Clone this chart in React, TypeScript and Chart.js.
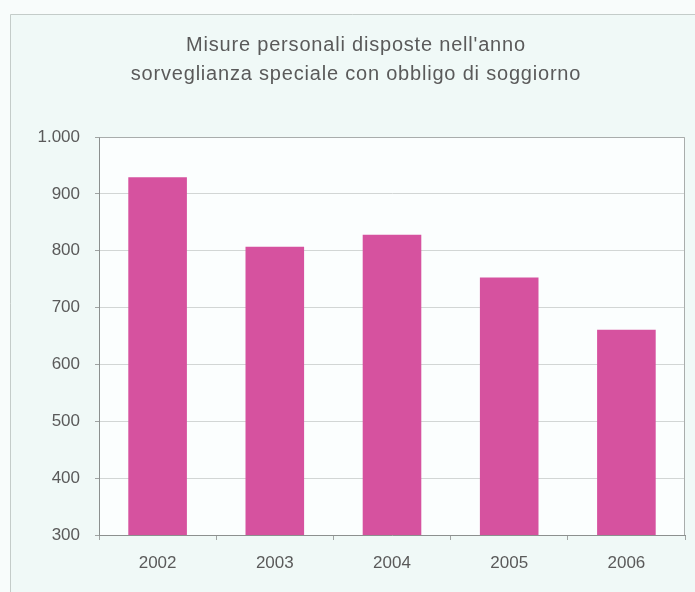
import React, { useEffect, useRef } from "react";
import { Chart, registerables } from "chart.js";

Chart.register(...registerables);

const titleLines = [
  "Misure personali disposte nell'anno",
  "sorveglianza speciale con obbligo di soggiorno",
];
const years = ["2002", "2003", "2004", "2005", "2006"];
const misure = [929, 807, 828, 753, 661];
const yMin = 300;
const yMax = 1000;
const yStep = 100;

const fmt = (v: number) => {
  const s = Math.round(v).toString();
  return s.replace(/\B(?=(\d{3})+(?!\d))/g, ".");
};

const FONT = '"Liberation Sans", Arial, sans-serif';

const decor = {
  id: "decor",
  beforeDraw(chart: any) {
    const { ctx, width, height, chartArea } = chart;
    ctx.save();
    ctx.fillStyle = "#f8fcfb";
    ctx.fillRect(0, 0, width, height);
    ctx.fillStyle = "#f0f9f7";
    ctx.fillRect(10, 14, width - 10, height - 14);
    ctx.strokeStyle = "#c4ccc9";
    ctx.lineWidth = 1;
    ctx.beginPath();
    ctx.moveTo(10.5, height);
    ctx.lineTo(10.5, 14.5);
    ctx.lineTo(width, 14.5);
    ctx.stroke();
    ctx.fillStyle = "#fbfefe";
    ctx.fillRect(chartArea.left, chartArea.top, chartArea.right - chartArea.left, chartArea.bottom - chartArea.top);
    // title
    ctx.fillStyle = "#5a5a5a";
    ctx.font = `20px ${FONT}`;
    (ctx as any).letterSpacing = "0.8px";
    ctx.textAlign = "center";
    ctx.textBaseline = "middle";
    ctx.fillText(titleLines[0], 356, 45);
    ctx.fillText(titleLines[1], 356, 74);
    ctx.restore();
  },
  beforeDatasetsDraw(chart: any) {
    const { ctx, chartArea } = chart;
    ctx.save();
    ctx.strokeStyle = "#a9adac";
    ctx.lineWidth = 1;
    ctx.beginPath();
    ctx.moveTo(Math.round(chartArea.left) + 0.5, Math.round(chartArea.top) + 0.5);
    ctx.lineTo(Math.round(chartArea.right) - 0.5, Math.round(chartArea.top) + 0.5);
    ctx.lineTo(Math.round(chartArea.right) - 0.5, Math.round(chartArea.bottom));
    ctx.stroke();
    ctx.restore();
  },
};

export default function App() {
  const ref = useRef<HTMLCanvasElement | null>(null);
  useEffect(() => {
    if (!ref.current) return;
    const chart = new Chart(ref.current, {
      type: "bar",
      data: {
        labels: years,
        datasets: [
          {
            data: misure,
            backgroundColor: "#d6529f",
            borderWidth: 0,
            barPercentage: 0.5,
            categoryPercentage: 1.0,
          },
        ],
      },
      options: {
        responsive: false,
        animation: false,
        devicePixelRatio: 1,
        layout: { padding: { top: 137, left: 10, right: 10, bottom: 0 } },
        plugins: {
          legend: { display: false },
          tooltip: { enabled: false },
          title: { display: false },
        },
        scales: {
          x: {
            offset: true,
            grid: {
              offset: true,
              drawOnChartArea: false,
              tickLength: 5,
              tickColor: "#a0a4a3",
            },
            border: { display: true, color: "#8c908f" },
            ticks: {
              color: "#5a5a5a",
              font: { family: FONT, size: 17 },
              padding: 13,
            },
            afterFit(scale: any) {
              scale.height = 57;
            },
          },
          y: {
            min: yMin,
            max: yMax,
            ticks: {
              stepSize: yStep,
              color: "#5a5a5a",
              font: { family: FONT, size: 17 },
              padding: 15,
              callback: (v: any) => fmt(Number(v)),
            },
            grid: {
              color: "#d2d6d5",
              tickLength: 4,
              tickColor: "#a0a4a3",
            },
            border: { display: true, color: "#8c908f" },
            afterFit(scale: any) {
              scale.width = 89;
            },
          },
        },
      },
      plugins: [decor],
    });
    return () => chart.destroy();
  }, []);
  return (
    <div style={{ position: "fixed", left: 0, top: 0, width: 695, height: 592 }}>
      <canvas ref={ref} width={695} height={592} style={{ display: "block" }} />
    </div>
  );
}
